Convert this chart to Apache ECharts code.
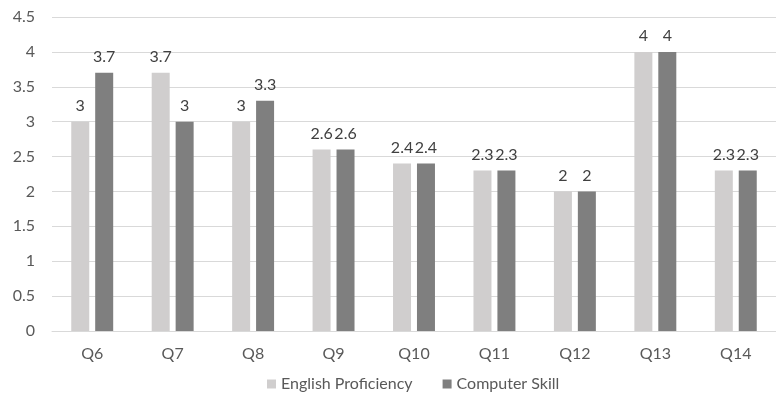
<!DOCTYPE html>
<html>
<head>
<meta charset="utf-8">
<script src="https://cdn.jsdelivr.net/npm/echarts@6/dist/echarts.min.js"></script>
<style>
html, body { margin: 0; padding: 0; background: #fff; }
#chart { width: 776px; height: 399px; }
</style>
</head>
<body>
<div id="chart"></div>
<script>
var categories = ['Q6', 'Q7', 'Q8', 'Q9', 'Q10', 'Q11', 'Q12', 'Q13', 'Q14'];
var englishProficiency = [3, 3.7, 3, 2.6, 2.4, 2.3, 2, 4, 2.3];
var computerSkill = [3.7, 3, 3.3, 2.6, 2.4, 2.3, 2, 4, 2.3];

var myChart = echarts.init(document.getElementById('chart'));
var font = 'Lato';
var option = {
    animation: false,
    textStyle: { fontFamily: font },
    grid: { left: 52, right: 0, top: 17, bottom: 68 },
    legend: {
        bottom: 2,
        left: 262,
        itemWidth: 9,
        itemHeight: 9,
        itemGap: 30,
        itemStyle: { borderWidth: 0 },
        icon: 'rect',
        textStyle: { color: '#595959', fontSize: 16, fontFamily: font },
        data: ['English Proficiency', 'Computer Skill']
    },
    xAxis: {
        type: 'category',
        data: categories,
        axisTick: { show: false },
        axisLine: { lineStyle: { color: '#d9d9d9' } },
        axisLabel: { color: '#595959', fontSize: 16, margin: 15 }
    },
    yAxis: {
        type: 'value',
        min: 0,
        max: 4.5,
        interval: 0.5,
        axisLabel: { color: '#595959', fontSize: 16, margin: 17 },
        splitLine: { lineStyle: { color: '#d9d9d9' } }
    },
    series: [
        {
            name: 'English Proficiency',
            type: 'bar',
            data: englishProficiency,
            barWidth: 18,
            barGap: '33%',
            itemStyle: { color: '#d0cece' },
            label: { show: true, position: 'top', color: '#404040', fontSize: 16, distance: 8 }
        },
        {
            name: 'Computer Skill',
            type: 'bar',
            data: computerSkill,
            barWidth: 18,
            itemStyle: { color: '#7f7f7f' },
            label: { show: true, position: 'top', color: '#404040', fontSize: 16, distance: 8 }
        }
    ]
};
myChart.setOption(option);
</script>
</body>
</html>
